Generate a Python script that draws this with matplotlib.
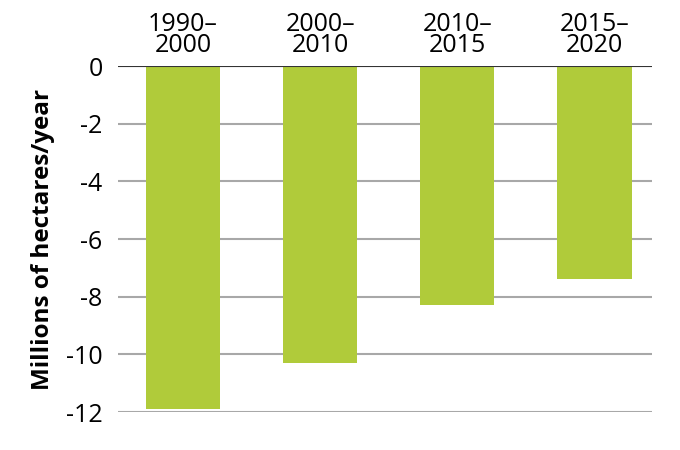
import matplotlib.pyplot as plt

plt.rcParams['font.family'] = ['Open Sans', 'DejaVu Sans']

periods = ['1990–\n2000', '2000–\n2010', '2010–\n2015', '2015–\n2020']
loss = [-11.9, -10.3, -8.3, -7.4]
yticks = [0, -2, -4, -6, -8, -10, -12]

fig = plt.figure(figsize=(6.8, 4.5), dpi=100)
ax = fig.add_axes([0.1735, 0.0844, 0.7855, 0.7686])

x = range(len(periods))
ax.bar(x, loss, width=0.54, color='#b0cb3a', zorder=2)

ax.set_ylim(-12, 0)
ax.set_xlim(-0.475, 3.42)
ax.set_yticks(yticks)
ax.set_yticklabels([str(t) for t in yticks])
ax.yaxis.grid(True, color='#a8a8a8', linewidth=1.5, zorder=1)
ax.axhline(0, color='#333333', linewidth=1.5, zorder=3)

ax.xaxis.tick_top()
ax.set_xticks(list(x))
ax.set_xticklabels(periods, linespacing=0.8)
ax.tick_params(axis='x', length=0, pad=6, labelsize=18)
ax.tick_params(axis='y', length=0, pad=11, labelsize=18)

for s in ax.spines.values():
    s.set_visible(False)

ax.set_ylabel('Millions of hectares/year', fontsize=17.5, fontweight='bold', labelpad=8)

plt.savefig('out.png', dpi=100)
